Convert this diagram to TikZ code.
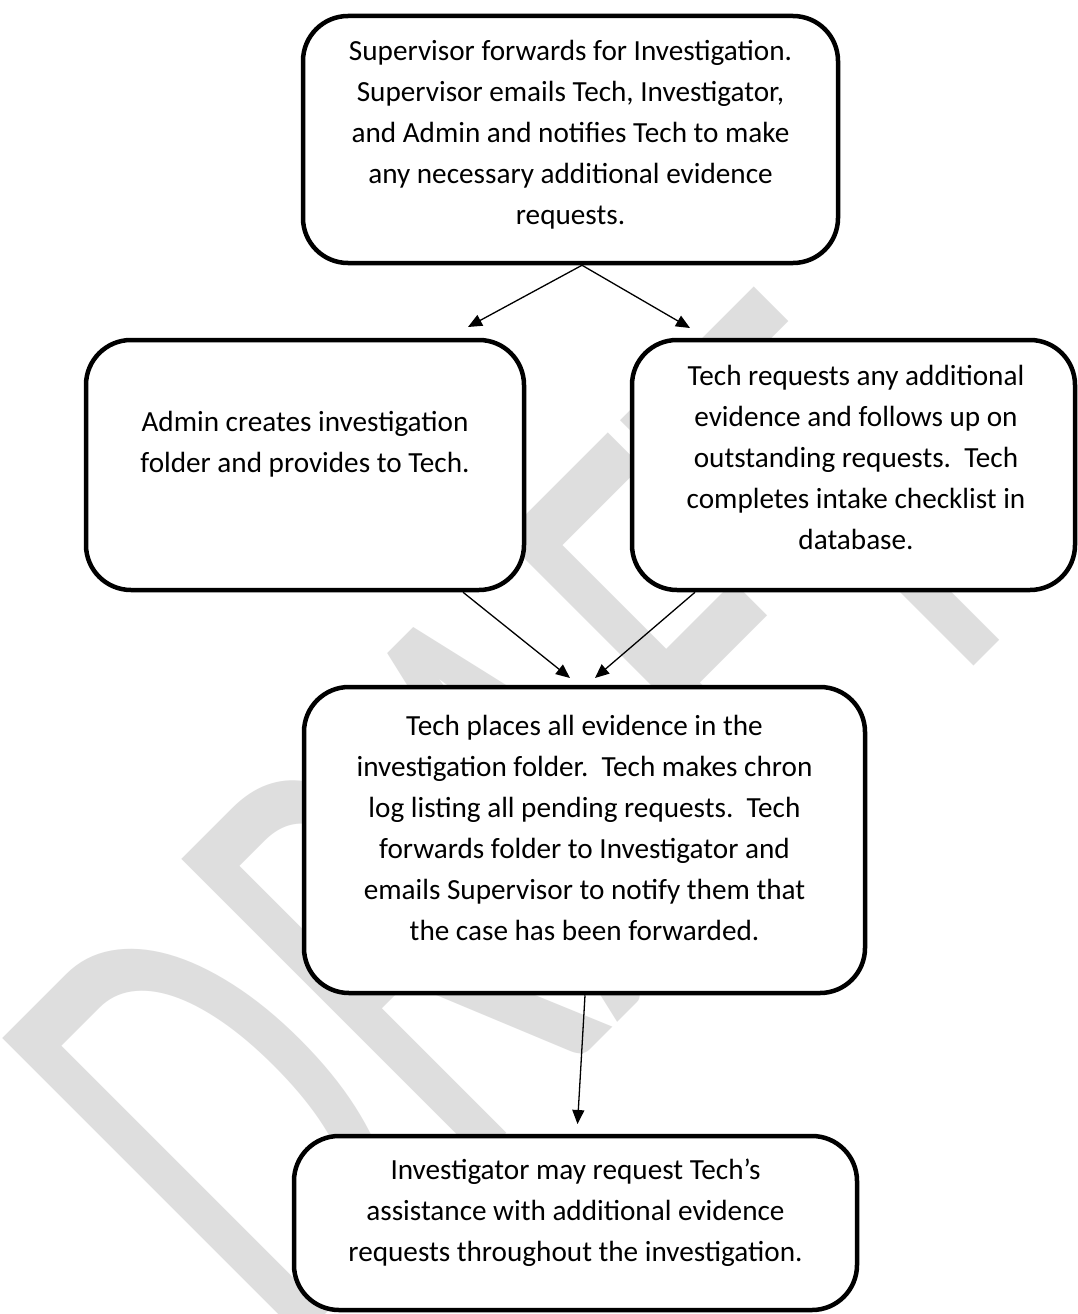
\documentclass[tikz,border=0pt]{standalone}
\usepackage{fontspec}
\setmainfont{Carlito}
\usetikzlibrary{arrows.meta}
\definecolor{wmgray}{RGB}{222,222,222}
\begin{document}
\begin{tikzpicture}[x=1pt,y=-1pt,
  box/.style={rectangle, draw=black, line width=4.5pt, rounded corners=45pt, fill=white, inner sep=0pt},
  txt/.style={align=center, font=\fontsize{29.2}{41}\selectfont, inner sep=0pt,
    execute at begin node=\strut, execute at end node=\strut},
  conn/.style={line width=1.3pt, -{Triangle[length=14pt,width=12pt]}},
  wmark/.style={text=wmgray, font=\fontsize{66}{66}\selectfont, inner sep=0pt, anchor=base west}]
\useasboundingbox (0,0) rectangle (1078,1314);
\fill[white] (0,0) rectangle (1078,1314);
% watermark
\node[wmark, rotate=45, xscale=6.18, yscale=10] (wm) at (282,1358) {DRAFT};
% boxes
\node[box, minimum width=535pt, minimum height=247pt] (b1) at (570.5,139.5) {};
\node[box, minimum width=438pt, minimum height=250pt] (b2) at (305,465) {};
\node[box, minimum width=443pt, minimum height=250pt] (b3) at (853.5,465) {};
\node[box, minimum width=561pt, minimum height=306pt] (b4) at (584.5,840) {};
\node[box, minimum width=563pt, minimum height=174pt] (b5) at (575.5,1223) {};
% texts
\node[txt] (t1) at (570.5,139) {Supervisor forwards for Investigation.\\ Supervisor emails Tech, Investigator,\\ and Admin and notifies Tech to make\\ any necessary additional evidence\\ requests.};
\node[txt] (t2) at (305,448.5) {Admin creates investigation\\ folder and provides to Tech.};
\node[txt] (t3) at (856,464) {Tech requests any additional\\ evidence and follows up on\\ outstanding requests.\ \ Tech\\ completes intake checklist in\\ database.};
\node[txt] (t4) at (584.5,834) {Tech places all evidence in the\\ investigation folder.\ \ Tech makes chron\\ log listing all pending requests.\ \ Tech\\ forwards folder to Investigator and\\ emails Supervisor to notify them that\\ the case has been forwarded.};
\node[txt] (t5) at (575.5,1216.5) {Investigator may request Tech’s\\ assistance with additional evidence\\ requests throughout the investigation.};
% connectors
\coordinate (a1) at (468,327);
\coordinate (a2) at (690,328);
\coordinate (a3) at (570,678);
\coordinate (a4) at (595,678);
\coordinate (a5) at (577.5,1124);
\draw[conn] ([xshift=11.5pt]b1.south) -- (a1);
\draw[conn] ([xshift=11.5pt]b1.south) -- (a2);
\draw[conn] ([xshift=158pt]b2.south) -- (a3);
\draw[conn] ([xshift=-158.5pt]b3.south) -- (a4);
\draw[conn] ([xshift=0.5pt]b4.south) -- (a5);
\end{tikzpicture}
\end{document}
